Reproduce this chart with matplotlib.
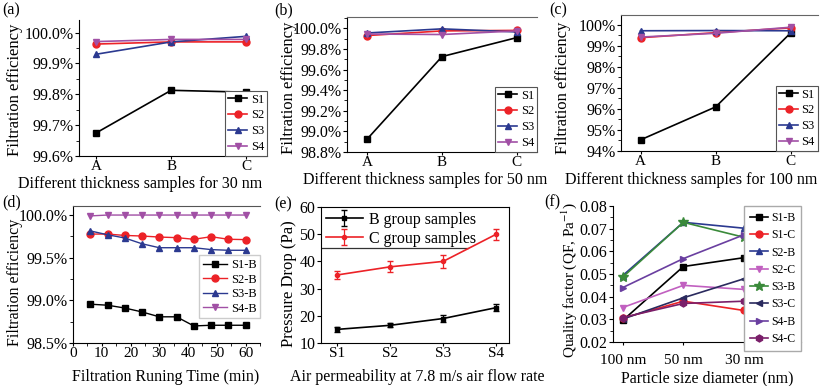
import numpy as np
import matplotlib
matplotlib.use('Agg')
import matplotlib.pyplot as plt
from matplotlib.ticker import AutoMinorLocator, FuncFormatter, MultipleLocator

plt.rcParams['font.family'] = ['Liberation Serif', 'DejaVu Serif']
plt.rcParams['mathtext.fontset'] = 'stix'

# ---- data ----
samples = ['A', 'B', 'C']
series_names = ['S1', 'S2', 'S3', 'S4']

eff_30nm = {
    'S1': [99.675, 99.813, 99.807],
    'S2': [99.963, 99.970, 99.970],
    'S3': [99.930, 99.970, 99.988],
    'S4': [99.971, 99.978, 99.978],
}
eff_50nm = {
    'S1': [98.926, 99.726, 99.910],
    'S2': [99.930, 99.975, 99.980],
    'S3': [99.955, 99.995, 99.965],
    'S4': [99.945, 99.940, 99.975],
}
eff_100nm = {
    'S1': [94.53, 96.10, 99.63],
    'S2': [99.39, 99.63, 99.86],
    'S3': [99.72, 99.73, 99.72],
    'S4': [99.42, 99.60, 99.89],
}

run_time = [6, 12, 18, 24, 30, 36, 42, 48, 54, 60]
time_names = ['S1-B', 'S2-B', 'S3-B', 'S4-B']
eff_time = {
    'S1-B': [98.955, 98.943, 98.91, 98.864, 98.807, 98.807, 98.700, 98.708, 98.708, 98.708],
    'S2-B': [99.777, 99.777, 99.761, 99.754, 99.742, 99.735, 99.716, 99.746, 99.716, 99.712],
    'S3-B': [99.814, 99.769, 99.731, 99.663, 99.617, 99.617, 99.617, 99.595, 99.587, 99.587],
    'S4-B': [99.99, 100.0, 100.0, 100.0, 100.0, 100.0, 100.0, 100.0, 100.0, 100.0],
}

perm_labels = ['S1', 'S2', 'S3', 'S4']
drop_B = [15, 16.5, 19, 23]
drop_B_err = [0.8, 0.8, 1.2, 1.3]
drop_C = [35, 38, 40, 50]
drop_C_err = [1.5, 2.0, 2.5, 2.0]

size_labels = ['100 nm', '50 nm', '30 nm']
qf_names = ['S1-B', 'S1-C', 'S2-B', 'S2-C', 'S3-B', 'S3-C', 'S4-B', 'S4-C']
qf = {
    'S1-B': [0.0295, 0.0533, 0.0572],
    'S1-C': [0.0305, 0.0380, 0.0339],
    'S2-B': [0.0493, 0.0728, 0.0702],
    'S2-C': [0.0352, 0.0450, 0.0432],
    'S3-B': [0.0486, 0.0728, 0.0662],
    'S3-C': [0.0301, 0.0395, 0.0479],
    'S4-B': [0.0440, 0.0568, 0.0673],
    'S4-C': [0.0308, 0.0370, 0.0380],
}

# ---- styles ----
colors = {'S1': 'black', 'S2': '#ec2227', 'S3': '#2b3990', 'S4': '#a150a5'}
markers = {'S1': 's', 'S2': 'o', 'S3': '^', 'S4': 'v'}
qf_colors = {'S1-B': 'black', 'S1-C': '#ec2227', 'S2-B': '#2b3990', 'S2-C': '#c160c0',
             'S3-B': '#3a8a3a', 'S3-C': '#2a2a5e', 'S4-B': '#6a3fa0', 'S4-C': '#7a1f6a'}
qf_markers = {'S1-B': 's', 'S1-C': 'o', 'S2-B': '^', 'S2-C': 'v',
              'S3-B': '*', 'S3-C': '<', 'S4-B': '>', 'S4-C': 'h'}

W, H = 823, 386
fig = plt.figure(figsize=(W / 100, H / 100), dpi=100)


def make_ax(x0, x1, y0, y1):
    # pixel box -> figure fraction
    return fig.add_axes([x0 / W, 1 - y1 / H, (x1 - x0) / W, (y1 - y0) / H])


def style(ax, top=None, right=False):
    ax.spines['right'].set_visible(right)
    if top is None:
        ax.spines['top'].set_visible(False)
    else:
        ax.spines['top'].set_color(top)
    ax.tick_params(direction='out', length=3, width=0.8, labelsize=11.5, pad=1,
                   top=False, right=False)
    ax.tick_params(axis='x', length=2.5, labelsize=11, pad=0.5)
    ax.tick_params(which='minor', direction='out', length=2, width=0.6, top=False, right=False)


def place_labels(ax, xc, xy, yx, yc):
    # label centres given in pixels of the whole picture
    ax.xaxis.set_label_coords(xc / W, 1 - xy / H, transform=fig.transFigure)
    ax.xaxis.label.set_va('center')
    ax.yaxis.set_label_coords(yx / W, 1 - yc / H, transform=fig.transFigure)
    ax.yaxis.label.set_va('center')


pct1 = FuncFormatter(lambda v, p: f'{v:.1f}%')
pct0 = FuncFormatter(lambda v, p: f'{v:.0f}%')

xi = np.arange(len(samples))
panels = [
    (eff_30nm, (79, 267, 20, 156), (99.6, 100.041), (-0.23, 2.28), 0.1, pct1, None,
     '30 nm', 11.5, (140, 184, 15, 90)),
    (eff_50nm, (347, 537, 17, 152), (98.8, 100.11), (-0.27, 2.27), 0.2, pct1, '#666666',
     '50 nm', 11.5, (425, 180, 289, 88)),
    (eff_100nm, (621, 818, 15, 151), (94, 100.47), (-0.26, 2.36), 1, pct0, '#666666',
     '100 nm', 11.5, (691, 180, 563, 88)),
]
for data, box, ylim, xlim, step, fmt, top, size, xfs, lab in panels:
    ax = make_ax(*box)
    style(ax, top=top)
    for s in series_names:
        ax.plot(xi, data[s], color=colors[s], marker=markers[s], ms=5, lw=1.2, label=s)
    ax.set_xticks(xi)
    ax.set_xticklabels(samples)
    ax.set_xlim(*xlim)
    ax.set_ylim(*ylim)
    ax.yaxis.set_major_locator(MultipleLocator(step))
    ax.yaxis.set_minor_locator(AutoMinorLocator(2))
    ax.yaxis.set_major_formatter(fmt)
    ax.set_xlabel('Different thickness samples for ' + size, fontsize=xfs)
    ax.set_ylabel('Filtration efficiency', fontsize=12)
    place_labels(ax, *lab)
    leg = ax.legend(loc='lower right', fontsize=9, handlelength=1.5, borderpad=0.25,
                    labelspacing=0.3, handletextpad=0.3, borderaxespad=0,
                    fancybox=False, framealpha=1)
    leg.get_frame().set_edgecolor('#555555')
    leg.get_frame().set_linewidth(0.8)

# (d)
ax = make_ax(73, 260, 206, 343)
style(ax, top='#555555')
for s, m in zip(time_names, series_names):
    ax.plot(run_time, eff_time[s], color=colors[m], marker=markers[m], ms=5, lw=1.0, label=s)
ax.set_xlim(0, 65)
ax.set_ylim(98.5, 100.106)
ax.xaxis.set_major_locator(MultipleLocator(10))
ax.xaxis.set_minor_locator(AutoMinorLocator(2))
ax.yaxis.set_major_locator(MultipleLocator(0.5))
ax.yaxis.set_minor_locator(AutoMinorLocator(2))
ax.yaxis.set_major_formatter(pct1)
ax.set_xlabel('Filtration Runing Time (min)', fontsize=11.5)
ax.set_ylabel('Filtration efficiency', fontsize=11.5)
place_labels(ax, 166, 377, 15, 282)
leg = ax.legend(loc='upper right', bbox_to_anchor=(1.0, 0.64), fontsize=9, handlelength=1.9,
                borderpad=0.3, labelspacing=0.2, handletextpad=0.3, borderaxespad=0,
                fancybox=False, framealpha=1)
leg.get_frame().set_edgecolor('#cccccc')

# (e)
ax = make_ax(321, 509, 207, 343)
style(ax, top='black', right=True)
xp = np.arange(len(perm_labels))
ax.errorbar(xp, drop_B, yerr=drop_B_err, color='black', marker='s', ms=3, lw=1.2,
            capsize=2.5, elinewidth=0.9, label='B group samples')
ax.errorbar(xp, drop_C, yerr=drop_C_err, color='#ec2227', marker='o', ms=3, lw=1.2,
            capsize=2.5, elinewidth=0.9, label='C group samples')
ax.set_xticks(xp)
ax.set_xticklabels(perm_labels)
ax.set_xlim(-0.3, 3.24)
ax.set_ylim(10, 60)
ax.yaxis.set_major_locator(MultipleLocator(10))
ax.set_xlabel('Air permeability at 7.8 m/s air flow rate', fontsize=11.5)
ax.set_ylabel('Pressure Drop (Pa)', fontsize=12)
place_labels(ax, 417, 377, 289, 284)
ax.legend(loc='upper left', fontsize=11.5, frameon=False, handlelength=2.3, borderpad=0.2,
          labelspacing=0.2, handletextpad=0.4, borderaxespad=0.1)
ax.plot([0, 0.78], [0.70, 0.70], transform=ax.transAxes, color='#333333', lw=0.9)

# (f)
ax = make_ax(613, 801, 206, 342)
style(ax)
ax.tick_params(axis='x', pad=6)
xs = np.arange(len(size_labels))
for s in qf_names:
    ms = 7 if qf_markers[s] == '*' else 5
    ax.plot(xs, qf[s], color=qf_colors[s], marker=qf_markers[s], ms=ms, lw=1.2, label=s)
ax.set_xticks(xs)
ax.set_xticklabels(size_labels)
ax.set_xlim(-0.16, 2.94)
ax.set_ylim(0.02, 0.08)
ax.yaxis.set_major_locator(MultipleLocator(0.01))
ax.yaxis.set_minor_locator(AutoMinorLocator(2))
ax.yaxis.set_major_formatter(FuncFormatter(lambda v, p: f'{v:.2f}'))
ax.set_xlabel('Particle size diameter (nm)', fontsize=11.5)
ax.set_ylabel('Quality factor (QF, Pa$^{-1}$)', fontsize=11)
place_labels(ax, 707, 378, 569, 280)
leg = ax.legend(loc='upper right', fontsize=8.5, handlelength=1.5, borderpad=0.5,
                labelspacing=0.45, handletextpad=0.25, borderaxespad=0,
                fancybox=False, framealpha=1)
leg.get_frame().set_edgecolor('#aaaaaa')

# panel letters
for lbl, x, y in [('(a)', 2, 2), ('(b)', 274, 2), ('(c)', 549, 2),
                  ('(d)', 2, 194), ('(e)', 274, 196), ('(f)', 544, 194)]:
    fig.text(x / W, 1 - y / H, lbl, fontsize=11.5, va='top', ha='left')

fig.savefig('out.png', dpi=100)
